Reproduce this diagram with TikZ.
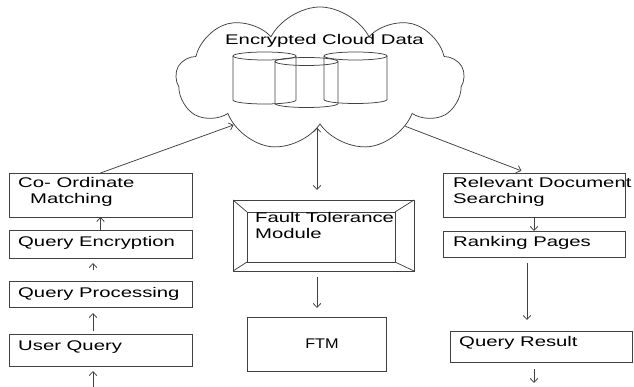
\documentclass[tikz,border=0pt]{standalone}
\usepackage{fontspec}
\usepackage{graphicx}
\setmainfont{Liberation Sans}[FakeStretch=1.45]
\usetikzlibrary{arrows.meta,shapes.symbols}

\begin{document}
\begin{tikzpicture}[x=1pt,y=-1pt,
  line/.style={draw=black!75, line width=0.75pt},
  tip/.tip={Straight Barb[length=4pt,width=7.5pt]},
  arr/.style={line, -tip},
  box/.style={line, rectangle, anchor=north west, inner sep=0pt, outer sep=0pt},
  lbl/.style={anchor=base west, inner sep=0pt, font=\fontsize{14}{16}\selectfont},
]
\useasboundingbox (0,0) rectangle (634,387);

% cloud holding the encrypted data
\node[line, cloud, cloud puffs=9, cloud puff arc=125, aspect=2,
      minimum width=288pt, minimum height=144pt, inner sep=0pt] (cloud) at (320,79) {};
\node[lbl] (tcloud) at (225,45) {Encrypted Cloud Data};

% three database cylinders
\foreach \cx/\ty/\by in {264.5/56/100, 306.5/61.5/103.5, 355.5/56/99.5} {
  \draw[line] (\cx,\ty) ellipse [x radius=31.5pt, y radius=4pt];
  \draw[line] (\cx-31.5,\ty) -- (\cx-31.5,\by)
    arc[start angle=180, end angle=360, x radius=31.5pt, y radius=4pt]
    -- (\cx+31.5,\ty);
}

% left column: query side
\node[box, minimum width=183pt, minimum height=44pt] (cm) at (9,173) {};
\node[lbl] (tcm1) at (18,188) {Co- Ordinate};
\node[lbl] (tcm2) at (30,204) {Matching};
\node[box, minimum width=183pt, minimum height=28pt] (qe) at (9,230) {};
\node[lbl] (tqe) at (18,247) {Query Encryption};
\node[box, minimum width=183pt, minimum height=26pt] (qp) at (9,281) {};
\node[lbl] (tqp) at (18,297) {Query Processing};
\node[box, minimum width=183pt, minimum height=32pt] (uq) at (9,334) {};
\node[lbl] (tuq) at (18,350) {User Query};
\coordinate (uqin) at (93,387);

% middle column: fault tolerance
\node[box, minimum width=181pt, minimum height=71pt] (ftmod) at (233,200) {};
\node[box, minimum width=148pt, minimum height=50pt] (ftin) at (247,212) {};
\draw[line] (ftmod.north west) -- (ftin.north west)
            (ftmod.north east) -- (ftin.north east)
            (ftmod.south west) -- (ftin.south west)
            (ftmod.south east) -- (ftin.south east);
\node[lbl] (tft1) at (255,223) {Fault Tolerance};
\node[lbl] (tft2) at (255,239) {Module};
\node[box, minimum width=139pt, minimum height=54pt] (ftm) at (247,317) {};
\node[inner sep=0pt, font=\fontsize{14}{16}\selectfont] (tftm) at (322,344) {\scalebox{0.8}[1]{FTM}};
\coordinate (midx) at (317,0);

% right column: result side
\node[box, minimum width=182pt, minimum height=44pt] (rel) at (443,173) {};
\node[lbl] (trel1) at (453,188) {Relevant Document};
\node[lbl] (trel2) at (453,204) {Searching};
\node[box, minimum width=182pt, minimum height=26pt] (rank) at (443,231) {};
\node[lbl] (trank) at (453,247) {Ranking Pages};
\node[box, minimum width=182pt, minimum height=31pt] (qr) at (450,331) {};
\node[lbl] (tqr) at (459,346) {Query Result};
\coordinate (qrout) at (534,383);

% connectors
\draw[arr] (cm.north) -- (cloud.208);
\draw[arr] (qe.north) -- (cm.south);
\draw[arr, shorten <=11pt, shorten >=5pt] ([xshift=-7.5pt]qp.north) -- ([xshift=-7.5pt]qe.south);
\draw[arr, shorten <=3pt, shorten >=6pt] ([xshift=-7.5pt]uq.north) -- ([xshift=-7.5pt]qp.south);
\draw[arr, shorten >=5pt] (uqin) -- (uqin |- uq.south);
\draw[line, tip-tip, shorten <=3pt, shorten >=10pt] (cloud.south -| midx) -- (ftmod.north -| midx);
\draw[arr, shorten <=6pt, shorten >=9pt] (ftmod.south -| midx) -- (ftm.north -| midx);
\draw[arr, shorten >=6pt] (cloud.331) -- ([xshift=-7pt]rel.north);
\draw[arr] (rel.south) -- (rank.north);
\draw[arr, shorten <=6pt, shorten >=11pt] ([xshift=-7pt]rank.south) -- ([xshift=-7pt]rank.south |- qr.north);
\draw[arr, shorten <=7pt] (qrout |- qr.south) -- (qrout);
\end{tikzpicture}
\end{document}
